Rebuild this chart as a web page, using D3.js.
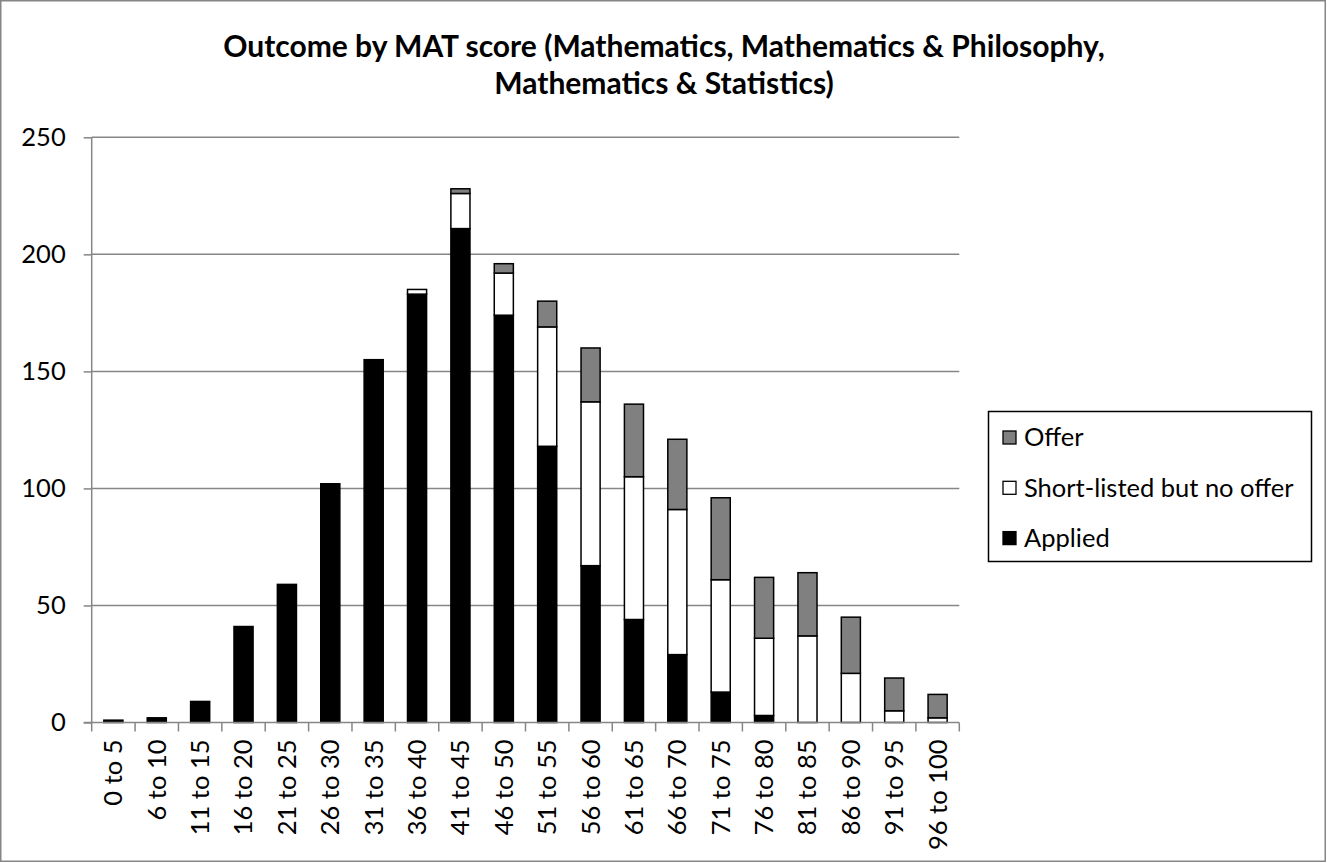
<!DOCTYPE html>
<html>
<head>
<meta charset="utf-8">
<script src="https://cdn.jsdelivr.net/npm/d3@7"></script>
<style>
  html, body { margin: 0; padding: 0; background: #fff; }
  svg { display: block; }
  text { font-family: Lato, "Liberation Sans", sans-serif; fill: #000; }
</style>
</head>
<body>
<svg id="chart" width="1327" height="863"></svg>
<script>
// ---- data ----
const categories = ["0 to 5", "6 to 10", "11 to 15", "16 to 20", "21 to 25", "26 to 30", "31 to 35", "36 to 40", "41 to 45", "46 to 50",
                    "51 to 55", "56 to 60", "61 to 65", "66 to 70", "71 to 75", "76 to 80", "81 to 85", "86 to 90", "91 to 95", "96 to 100"];
const applied     = [1, 2, 9, 41, 59, 102, 155, 183, 211, 174, 118, 67, 44, 29, 13, 3, 0, 0, 0, 0];
const shortlisted = [0, 0, 0, 0, 0, 0, 0, 2, 15, 18, 51, 70, 61, 62, 48, 33, 37, 21, 5, 2];
const offer       = [0, 0, 0, 0, 0, 0, 0, 0, 2, 4, 11, 23, 31, 30, 35, 26, 27, 24, 14, 10];
const seriesNames = ["Applied", "Short-listed but no offer", "Offer"];
const yTicks = [0, 50, 100, 150, 200, 250];
const titleLines = ["Outcome by MAT score (Mathematics, Mathematics & Philosophy,", "Mathematics & Statistics)"];

// ---- layout ----
const W = 1327, H = 863;
const plot = { left: 91.7, right: 959.3, top: 137.3, bottom: 722.5 };
const colors = { "Applied": "#000000", "Short-listed but no offer": "#ffffff", "Offer": "#808080" };
const gridColor = "#868686";

const svg = d3.select("#chart");

// outer border
svg.append("rect").attr("x", 0.75).attr("y", 0.75).attr("width", W - 2.5).attr("height", H - 2.5)
  .attr("fill", "#fff").attr("stroke", gridColor).attr("stroke-width", 1.5);

// title
const title = svg.append("text").attr("text-anchor", "middle")
  .style("font-weight", "bold").style("font-size", "30px");
titleLines.forEach((t, i) => {
  title.append("tspan").attr("x", 664).attr("y", 57 + i * 37).text(t);
});

const x = d3.scaleBand().domain(categories).range([plot.left, plot.right])
  .paddingInner(0.56).paddingOuter(0.28);
const y = d3.scaleLinear().domain([0, 250]).range([plot.bottom, plot.top]);

// gridlines
svg.append("g").selectAll("line").data(yTicks.filter(d => d > 0)).join("line")
  .attr("x1", plot.left).attr("x2", plot.right)
  .attr("y1", d => y(d)).attr("y2", d => y(d))
  .attr("stroke", gridColor).attr("stroke-width", 1.5);

// stacked data
const rows = categories.map((c, i) => ({
  cat: c, "Applied": applied[i], "Short-listed but no offer": shortlisted[i], "Offer": offer[i]
}));
const stack = d3.stack().keys(seriesNames)(rows);

const bw = x.bandwidth();
svg.append("g").selectAll("g").data(stack).join("g")
  .attr("fill", d => colors[d.key])
  .selectAll("rect").data(d => d.filter(s => s[1] - s[0] > 0)).join("rect")
  .attr("x", d => x(d.data.cat))
  .attr("width", bw)
  .attr("y", d => y(d[1]))
  .attr("height", d => y(d[0]) - y(d[1]))
  .attr("stroke", "#000").attr("stroke-width", 1.5);

// y axis
const yAxis = svg.append("g").attr("transform", `translate(${plot.left},0)`)
  .call(d3.axisLeft(y).tickValues(yTicks).tickSize(8).tickPadding(18).tickFormat(d3.format("d")));
yAxis.select(".domain").attr("stroke", gridColor).attr("stroke-width", 1.5)
  .attr("d", `M0,${plot.top}V${plot.bottom}`);
yAxis.selectAll(".tick line").attr("stroke", gridColor).attr("stroke-width", 1.5);
yAxis.selectAll(".tick text").style("font-family", "Lato, sans-serif").style("font-size", "25.5px").attr("fill", "#000");

// x axis
const xAxis = svg.append("g").attr("transform", `translate(0,${plot.bottom})`)
  .call(d3.axisBottom(x).tickSize(0).tickPadding(0));
xAxis.select(".domain").attr("stroke", gridColor).attr("stroke-width", 1.5)
  .attr("d", `M${plot.left - 8},0H${plot.right}`);
// category boundary ticks
const boundaries = d3.range(categories.length + 1).map(i => plot.left + i * (plot.right - plot.left) / categories.length);
xAxis.append("g").selectAll("line").data(boundaries).join("line")
  .attr("x1", d => d).attr("x2", d => d).attr("y1", 0).attr("y2", 9)
  .attr("stroke", gridColor).attr("stroke-width", 1.5);
xAxis.selectAll(".tick text")
  .style("font-family", "Lato, sans-serif").style("font-size", "25.5px").attr("fill", "#000")
  .attr("text-anchor", "end")
  .attr("dy", "0.35em")
  .attr("transform", "translate(0,17) rotate(-90)")
  .attr("x", 0).attr("y", 0);

// legend
const legend = svg.append("g");
legend.append("rect").attr("x", 988.5).attr("y", 411.5).attr("width", 323).attr("height", 150)
  .attr("fill", "#fff").attr("stroke", "#000").attr("stroke-width", 1.5);
const legendOrder = ["Offer", "Short-listed but no offer", "Applied"];
legendOrder.forEach((k, i) => {
  const cy = 437.5 + i * 50.3;
  legend.append("rect").attr("x", 1003).attr("y", cy - 6.5).attr("width", 13).attr("height", 13)
    .attr("fill", colors[k]).attr("stroke", "#000").attr("stroke-width", 1.3);
  legend.append("text").attr("x", 1024).attr("y", cy).attr("dy", "0.35em")
    .style("font-size", "25.5px").text(k);
});
</script>
</body>
</html>
